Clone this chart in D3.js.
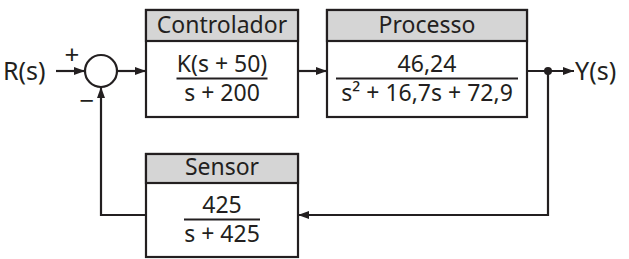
<!DOCTYPE html>
<html>
<head>
<meta charset="utf-8">
<script src="https://cdn.jsdelivr.net/npm/d3@7"></script>
<style>
  html, body { margin: 0; padding: 0; background: #fff; }
  svg { display: block; }
  text { font-family: "Noto Sans", "Open Sans", sans-serif; fill: #231f20; }
</style>
</head>
<body>
<svg id="chart" width="629" height="259"></svg>
<script>
// ---- data ----
const blockNames   = ["Controlador", "Processo", "Sensor"];
const numerators   = ["K(s + 50)", "46,24", "425"];
const denominators = ["s + 200", "s\u00B2 + 16,7s + 72,9", "s + 425"];
const signalLabels = ["R(s)", "Y(s)"];
const junctionSigns = ["+", "\u2212"];

// ---- layout ----
const ink = "#231f20";
const lw = 2.2;
const fs = 23;
const mainY = 71;
const fbY = 215;

const blocks = [
  { x: 146, y: 10,  w: 152, h: 107, hh: 31, fw: 91 },
  { x: 327, y: 10,  w: 200, h: 107, hh: 31, fw: 182 },
  { x: 146, y: 154, w: 152, h: 103, hh: 29, fw: 76 }
].map((b, i) => ({ ...b, name: blockNames[i], num: numerators[i], den: denominators[i] }));

const svg = d3.select("#chart");
const g = svg.append("g");

// blocks
const bg = g.selectAll("g.block").data(blocks).join("g").attr("class", "block");
bg.append("rect")
  .attr("x", d => d.x).attr("y", d => d.y).attr("width", d => d.w).attr("height", d => d.h)
  .attr("fill", "#fff").attr("stroke", ink).attr("stroke-width", lw);
bg.append("rect")
  .attr("x", d => d.x).attr("y", d => d.y).attr("width", d => d.w).attr("height", d => d.hh)
  .attr("fill", "#d5d5d5").attr("stroke", ink).attr("stroke-width", lw);
bg.append("text")
  .attr("x", d => d.x + d.w / 2).attr("y", d => d.y + d.hh - 8)
  .attr("text-anchor", "middle").attr("font-size", fs)
  .text(d => d.name);
const fracY = d => d.y + d.hh + (d.h - d.hh) / 2 - 0.5;
bg.append("line")
  .attr("x1", d => d.x + d.w / 2 - d.fw / 2).attr("x2", d => d.x + d.w / 2 + d.fw / 2)
  .attr("y1", fracY).attr("y2", fracY)
  .attr("stroke", ink).attr("stroke-width", lw);
bg.append("text")
  .attr("x", d => d.x + d.w / 2).attr("y", d => fracY(d) - 7)
  .attr("text-anchor", "middle").attr("font-size", fs)
  .text(d => d.num);
bg.append("text")
  .attr("x", d => d.x + d.w / 2).attr("y", d => fracY(d) + 22)
  .attr("text-anchor", "middle").attr("font-size", fs)
  .text(d => d.den);

// summing junction
const cx = 101, r = 16;
g.append("circle").attr("cx", cx).attr("cy", mainY).attr("r", r)
  .attr("fill", "#fff").attr("stroke", ink).attr("stroke-width", lw);

// wires with arrowheads
const line = d3.line();
function wire(pts, arrow) {
  g.append("path").attr("d", line(pts)).attr("fill", "none")
    .attr("stroke", ink).attr("stroke-width", lw).attr("stroke-linejoin", "miter");
  if (arrow) {
    const [x1, y1] = pts[pts.length - 2];
    const [x2, y2] = pts[pts.length - 1];
    const a = Math.atan2(y2 - y1, x2 - x1);
    const L = 11, W = 4;
    const p = [
      [x2, y2],
      [x2 - L * Math.cos(a) + W * Math.sin(a), y2 - L * Math.sin(a) - W * Math.cos(a)],
      [x2 - L * Math.cos(a) - W * Math.sin(a), y2 - L * Math.sin(a) + W * Math.cos(a)]
    ];
    g.append("path").attr("d", line(p) + "Z").attr("fill", ink);
  }
}
const [bc, bp, bs] = blocks;
const jx = 548;
wire([[56, mainY], [cx - r, mainY]], true);
wire([[cx + r, mainY], [bc.x, mainY]], true);
wire([[bc.x + bc.w, mainY], [bp.x, mainY]], true);
wire([[bp.x + bp.w, mainY], [574, mainY]], true);
wire([[jx, mainY], [jx, fbY], [bs.x + bs.w, fbY]], true);
wire([[bs.x, fbY], [cx, fbY], [cx, mainY + r]], true);
g.append("circle").attr("cx", jx).attr("cy", mainY).attr("r", 4).attr("fill", ink);

// signal labels
g.append("text").attr("x", 3).attr("y", 80).attr("font-size", 25).text(signalLabels[0]);
g.append("text").attr("x", 575).attr("y", 80).attr("font-size", 25).text(signalLabels[1]);
// signs
g.append("text").attr("x", 72).attr("y", 64).attr("text-anchor", "middle").attr("font-size", 26).text(junctionSigns[0]);
g.append("text").attr("x", 87).attr("y", 110).attr("text-anchor", "middle").attr("font-size", 26).text(junctionSigns[1]);
</script>
</body>
</html>
